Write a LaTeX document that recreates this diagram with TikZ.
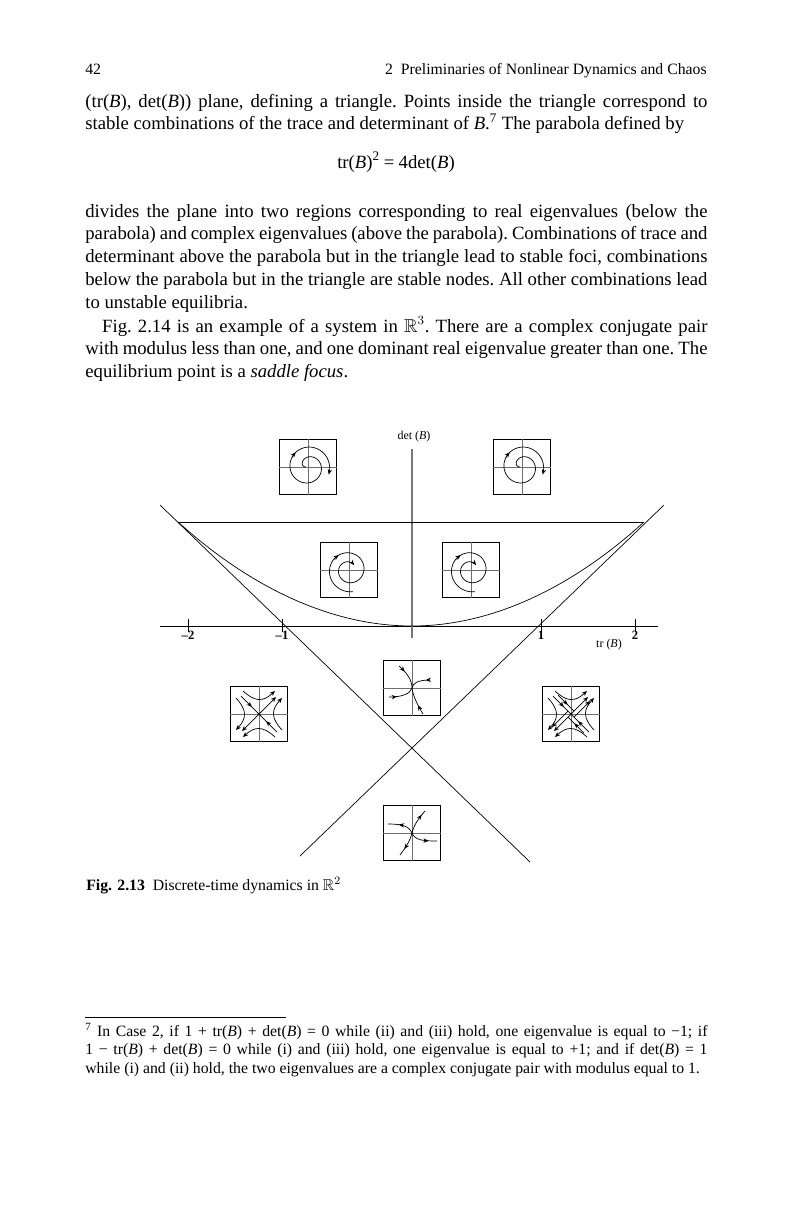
\documentclass[tikz,border=0pt]{standalone}
\usepackage{amsmath}
\usepackage{amssymb}
\usepackage{fontspec}
\setmainfont{Liberation Serif}
\usepackage{tikz}
\usetikzlibrary{arrows.meta, decorations.markings}
\definecolor{cAxis}{RGB}{120,120,120}
\definecolor{cCross}{RGB}{110,110,110}
\tikzset{
	bodytext/.style ={anchor=base west, inner sep=0pt, text width=15.55cm, align=justify, font=\fontsize{13.3}{16.3}\selectfont\frenchspacing},
	headtext/.style ={inner sep=0pt, font=\fontsize{11.2}{13}\selectfont},
	notetext/.style ={anchor=base west, inner sep=0pt, text width=15.55cm, align=justify, font=\fontsize{11.2}{13.5}\selectfont\frenchspacing},
	% phase portrait insets
	phasebox/.style ={rectangle, draw=black, line width=0.5pt, minimum width=1.42cm, minimum height=1.38cm, inner sep=0pt},
	crossline/.style={draw=cCross, line width=0.6pt},
	traj/.style     ={line width=0.5pt},
	endarr/.style   ={-{Stealth[length=1.3mm, width=1.1mm]}},
	midarr/.style   ={postaction={decorate}, decoration={markings, mark=at position #1 with {\arrow{Stealth[length=1.3mm, width=1.1mm]}}}},
	axlabel/.style  ={inner sep=1pt, font=\fontsize{8.5}{9}\selectfont},
}
\begin{document}
\begin{tikzpicture}[x=0.025cm, y=-0.025cm, line width=0.5pt]
	\useasboundingbox (0,0) rectangle (800,1213);
	% page text
	\node[headtext, anchor=base west] (pgnum) at (85,74) {42};
	\node[headtext, anchor=base east] (runhead) at (707,74) {2\enspace Preliminaries of Nonlinear Dynamics and Chaos};
	\node[bodytext] (parA) at (85,107) {(tr(\textit{B}), det(\textit{B})) plane, defining a triangle. Points inside the triangle correspond to\linebreak
		stable combinations of the trace and determinant of \textit{B}.\textsuperscript{7} The parabola defined by};
	\node[anchor=base, inner sep=0pt, font=\fontsize{13.3}{16.3}\selectfont] (parEq) at (396,168) {tr(\textit{B})\textsuperscript{2}\:=\:4det(\textit{B})};
	\node[bodytext] (parB) at (85,217) {divides the plane into two regions corresponding to real eigenvalues (below the\linebreak
		parabola) and complex eigenvalues (above the parabola). Combinations of trace and\linebreak
		determinant above the parabola but in the triangle lead to stable foci, combinations\linebreak
		below the parabola but in the triangle are stable nodes. All other combinations lead\linebreak
		to unstable equilibria.};
	\node[bodytext] (parC) at (85,332) {\hspace*{0.42cm}Fig. 2.14 is an example of a system in $\mathbb{R}^3$. There are a complex conjugate pair\linebreak
		with modulus less than one, and one dominant real eigenvalue greater than one. The\linebreak
		equilibrium point is a \textit{saddle focus}.};
	\node[anchor=base west, inner sep=0pt, font=\fontsize{11.2}{13}\selectfont] (caption) at (86,890) {\textbf{Fig. 2.13}\enspace Discrete-time dynamics in $\mathbb{R}^2$};
	\draw[line width=0.6pt] (85,1017) -- (286,1017);
	\node[notetext] (fnote) at (85,1036) {\textsuperscript{7} In Case 2, if 1~+~tr(\textit{B})~+~det(\textit{B})~=~0 while (ii) and (iii) hold, one eigenvalue is equal to \textminus1; if\linebreak
		1~\textminus~tr(\textit{B})~+~det(\textit{B})~=~0 while (i) and (iii) hold, one eigenvalue is equal to +1; and if det(\textit{B})~=~1\linebreak
		while (i) and (ii) hold, the two eigenvalues are a complex conjugate pair with modulus equal to\nobreak\ 1.};
	% axes
	\draw (160,626) -- (658,626);
	\draw[cAxis, line width=1pt] (412,449) -- (412,638);
	\node[axlabel] (detlbl) at (414,437) {det (\textit{B})};
	\node[axlabel] (trlbl) at (609,645) {tr (\textit{B})};
	\foreach \tx/\tl in {188/--2, 282/--1, 541/1, 635/2} {
		\draw (\tx,619) -- (\tx,632);
		\node[axlabel, anchor=north, font=\fontsize{9}{10}\selectfont\bfseries] at (\tx,629) {\tl};
	}
	% triangle and parabola
	\draw (178,522) -- (644,522);
	\draw (178,522) parabola bend (412,626) (644,522);
	\draw (160,505) -- (530,862);
	\draw (664,505) -- (300,856);
	% insets
	\node[phasebox] (fTL) at (308,467) {};
	\node[phasebox] (fTR) at (522,467) {};
	\node[phasebox] (fML) at (349,570) {};
	\node[phasebox] (fMR) at (471,570) {};
	\node[phasebox] (sL) at (259,714) {};
	\node[phasebox] (nC) at (412,688) {};
	\node[phasebox] (sR) at (571,714) {};
	\node[phasebox] (nB) at (412,833) {};
	\foreach \bx in {fTL,fTR,fML,fMR,sL,nC,sR,nB} {
		\draw[crossline] (\bx.north) -- (\bx.south);
		\draw[crossline] (\bx.west) -- (\bx.east);
	}
	% unstable foci
	\foreach \bx in {fTL,fTR} {
		\begin{scope}[shift={(\bx.center)}]
			\draw[traj, endarr] plot[domain=180:740, samples=100] (\x:{2+20*sqrt((\x-180)/560)});
			\draw[traj, endarr] plot[domain=570:590, samples=3] (\x:{2+20*sqrt((\x-180)/560)});
		\end{scope}
	}
	% stable foci
	\foreach \bx in {fML,fMR} {
		\begin{scope}[shift={(\bx.center)}]
			\draw[traj, endarr] plot[domain=80:675, samples=100] (\x:{7+15*(675-\x)/595});
			\draw[traj, endarr] plot[domain=215:235, samples=3] (\x:{7+15*(675-\x)/595});
		\end{scope}
	}
	% saddles
	\foreach \bx in {sL,sR} {
		\begin{scope}[shift={(\bx.center)}]
			\fill (0,0) circle (1pt);
			\draw[traj, endarr] (0,0) -- (17,-17);
			\draw[traj, endarr] (0,0) -- (-17,17);
			\draw[traj, midarr=0.6] (-18,-18) -- (0,0);
			\draw[traj, midarr=0.6] (18,18) -- (0,0);
			\draw[traj, endarr] (-16,-23) .. controls (-4,-12) and (4,-12) .. (16,-23);
			\draw[traj, endarr] (23,16) .. controls (12,4) and (12,-4) .. (23,-16);
			\draw[traj, endarr] (16,23) .. controls (4,12) and (-4,12) .. (-16,23);
			\draw[traj, endarr] (-23,-16) .. controls (-12,-4) and (-12,4) .. (-23,16);
		\end{scope}
	}
	\begin{scope}[shift={(sR.center)}]
		\draw[traj, endarr] (3,3) -- (19,-13);
		\draw[traj, endarr] (-3,-3) -- (-19,13);
		\draw[traj, midarr=0.6] (-13,-19) -- (3,-3);
		\draw[traj, midarr=0.6] (13,19) -- (-3,3);
	\end{scope}
	% stable node
	\begin{scope}[shift={(nC.center)}]
		\draw[traj, midarr=0.3] (-13,-22) .. controls (-5,-15) and (0,-8) .. (0,0);
		\draw[traj, midarr=0.2] (18,-8) .. controls (6,-8) and (1,-5) .. (0,0);
		\draw[traj, midarr=0.3] (-23,9) .. controls (-10,9) and (-2,6) .. (0,0);
		\draw[traj, midarr=0.35] (11,26) .. controls (6,18) and (1,8) .. (0,0);
	\end{scope}
	% unstable node
	\begin{scope}[shift={(nB.center)}]
		\draw[traj, midarr=0.8] (0,0) .. controls (2,-8) and (6,-14) .. (13,-22);
		\draw[traj, midarr=0.6] (0,0) .. controls (-3,-7) and (-10,-9) .. (-24,-9);
		\draw[traj, midarr=0.7] (0,0) .. controls (3,7) and (10,8) .. (25,8);
		\draw[traj, midarr=0.7] (0,0) .. controls (-2,8) and (-6,14) .. (-12,22);
	\end{scope}
\end{tikzpicture}
\end{document}
